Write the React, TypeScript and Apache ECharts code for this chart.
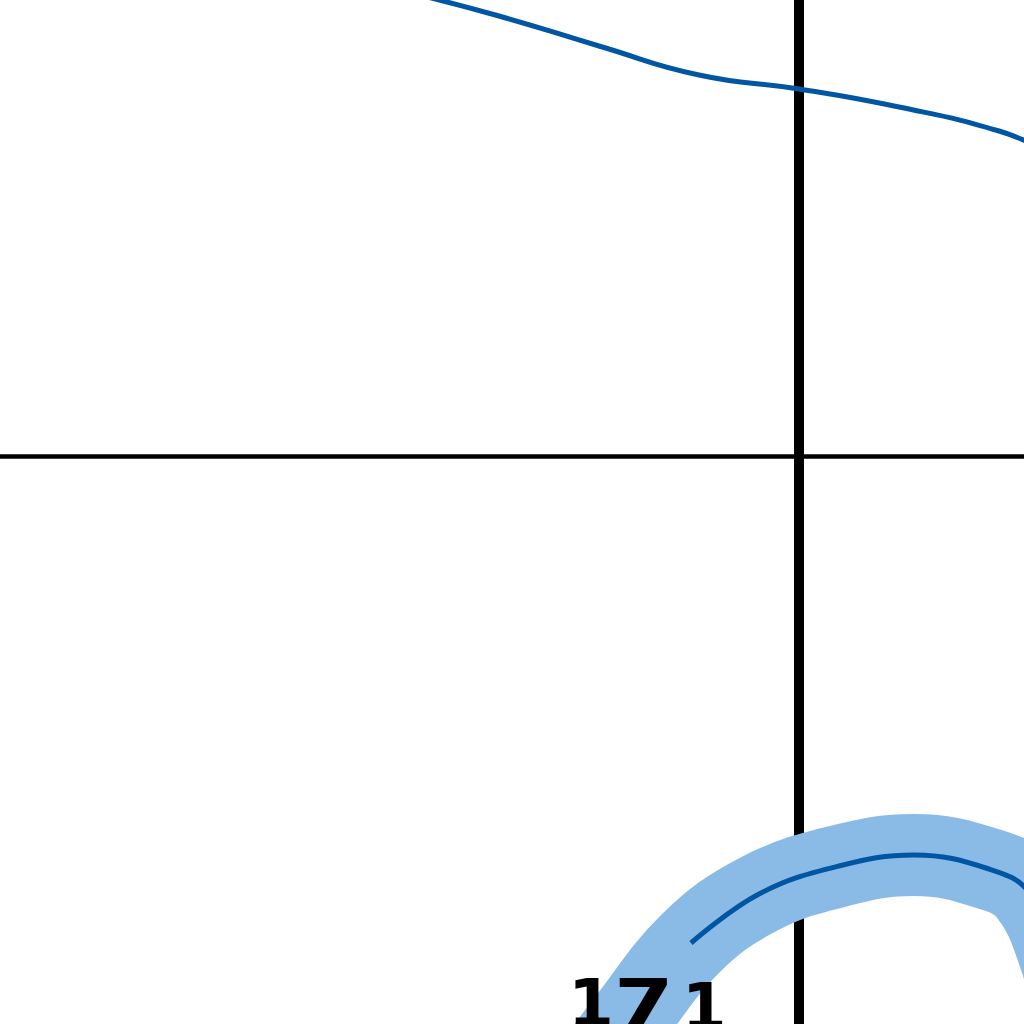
import { useEffect, useRef } from "react";
import * as echarts from "echarts";

// upper curve
const upperX = [-4.0, -3.0, -2.0, -1.0, 0, 1.0, 2.0, 2.4];
const upperY = [4.66, 4.4, 4.1, 3.81, 3.67, 3.49, 3.25, 3.08];

// lower curve (mean)
const meanX = [-1.08, -0.4, 0.4, 1.15, 1.9, 2.3, 2.62];
const meanY = [-4.87, -4.38, -4.1, -3.99, -4.13, -4.36, -5.04];

// band around the lower curve
const bandX = [-2.0, -1.73, -1.08, -0.4, 0.4, 1.15, 1.9, 2.3, 2.62, 2.7];
const bandY = [-6.04, -5.68, -4.87, -4.38, -4.1, -3.99, -4.13, -4.36, -5.04, -5.5];

const labelParts = ["1", "7", "1"];

const DARK = "#0056a3";
const LIGHT = "#8abbe7";

const zip = (xs: number[], ys: number[]) => xs.map((x, i) => [x, ys[i]]);

export default function App() {
  const chartRef = useRef<HTMLDivElement>(null);

  useEffect(() => {
    if (!chartRef.current) return;
    const chart = echarts.init(chartRef.current, null, { renderer: "svg" });

    const font = "bold 66px 'DejaVu Sans'";

    const option: echarts.EChartsOption = {
      animation: false,
      backgroundColor: "#ffffff",
      grid: { left: 0, right: 0, top: 0, bottom: 0 },
      xAxis: {
        type: "value",
        min: -7.99,
        max: 2.25,
        axisLine: { onZero: true, lineStyle: { color: "#000", width: 4.5 } },
        axisTick: { show: false },
        axisLabel: { show: false },
        splitLine: { show: false },
      },
      yAxis: {
        type: "value",
        min: -5.68,
        max: 4.56,
        axisLine: { onZero: true, lineStyle: { color: "#000", width: 10 } },
        axisTick: { show: false },
        axisLabel: { show: false },
        splitLine: { show: false },
      },
      series: [
        {
          type: "line",
          data: zip(bandX, bandY),
          smooth: 0.4,
          showSymbol: false,
          lineStyle: { color: LIGHT, width: 82, cap: "butt" },
          z: 1,
        },
        {
          type: "line",
          data: zip(meanX, meanY),
          smooth: 0.4,
          showSymbol: false,
          lineStyle: { color: DARK, width: 5 },
          z: 2,
        },
        {
          type: "line",
          data: zip(upperX, upperY),
          smooth: 0.5,
          showSymbol: false,
          lineStyle: { color: DARK, width: 5 },
          z: 2,
        },
      ],
      graphic: [
        {
          type: "text",
          x: 568,
          y: 970,
          z: 10,
          style: { text: labelParts[0], fill: "#000", font },
        },
        {
          type: "text",
          x: 614,
          y: 970,
          scaleX: 1.3,
          z: 10,
          style: { text: labelParts[1], fill: "#000", font },
        },
        {
          type: "text",
          x: 682,
          y: 975,
          z: 10,
          style: { text: labelParts[2], fill: "#000", font: "bold 64px 'DejaVu Sans'" },
        },
      ],
    };

    chart.setOption(option);
    return () => chart.dispose();
  }, []);

  return (
    <div
      ref={chartRef}
      style={{ position: "fixed", left: 0, top: 0, width: "1024px", height: "1024px" }}
    />
  );
}
